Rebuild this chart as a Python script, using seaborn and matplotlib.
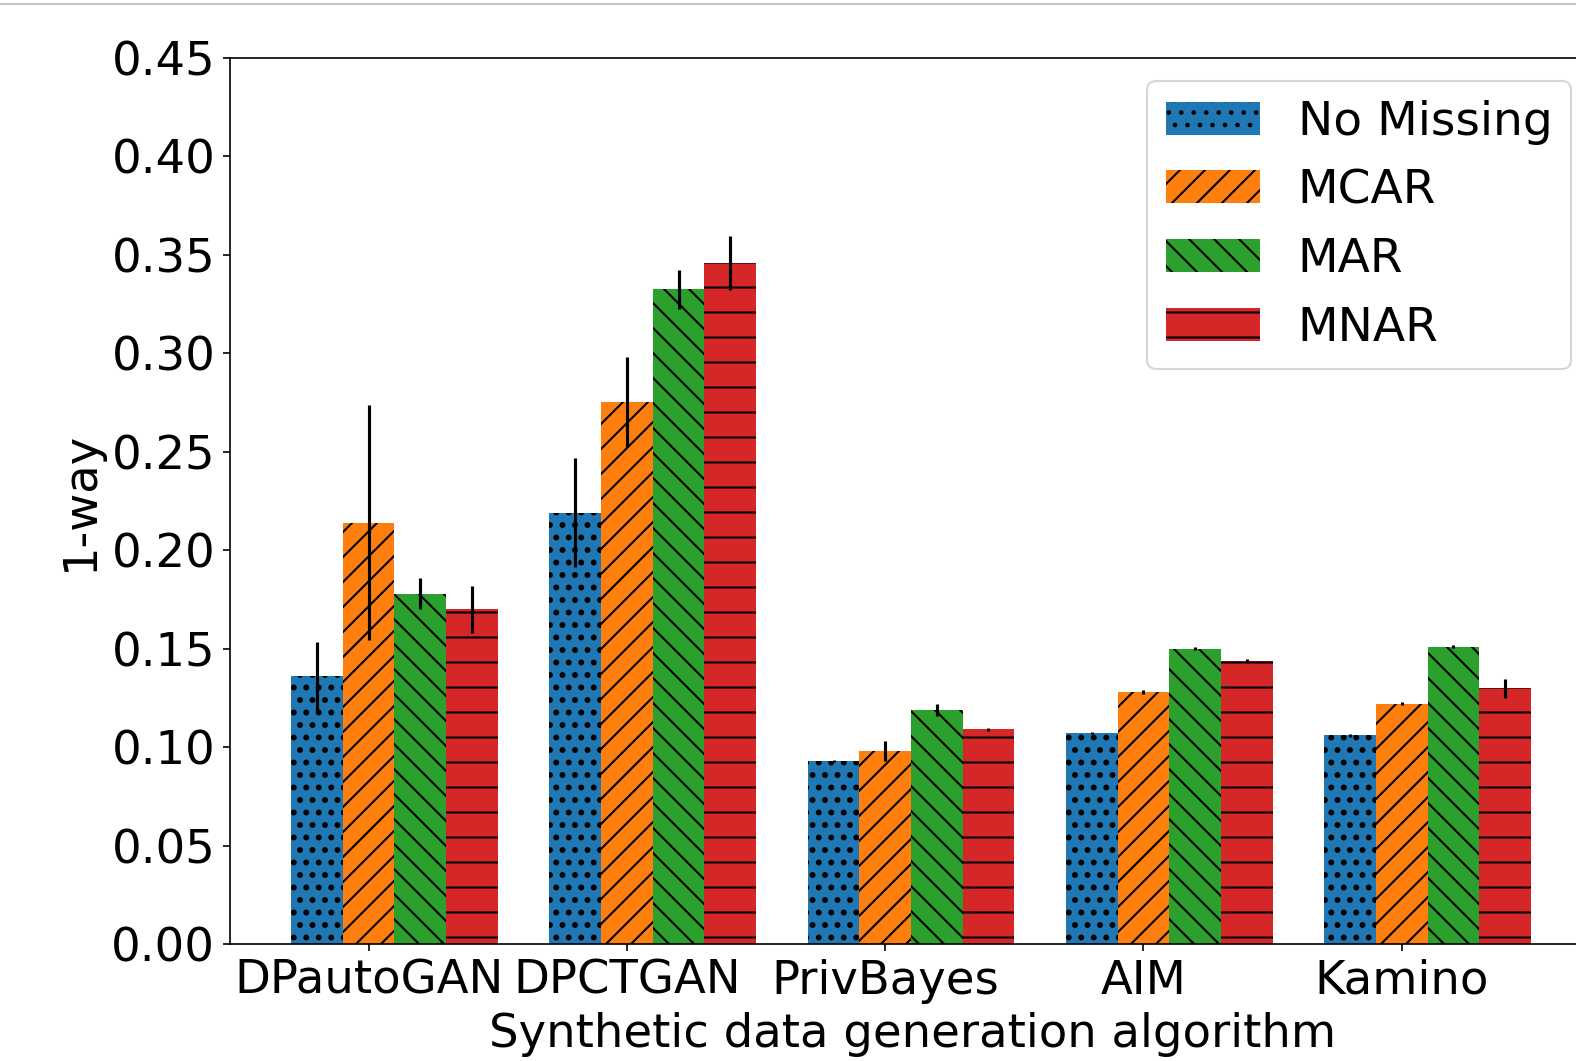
import numpy as np
import pandas as pd
import seaborn as sns
import matplotlib
matplotlib.use('Agg')
import matplotlib.pyplot as plt
from matplotlib.patches import Patch
from matplotlib.lines import Line2D

# values
algorithms = ["DPautoGAN", "DPCTGAN", "PrivBayes", "AIM", "Kamino"]
mechanisms = ["No Missing", "MCAR", "MAR", "MNAR"]

no_missing = [0.136, 0.219, 0.093, 0.107, 0.106]
no_missing_err = [0.0176, 0.0277, 0.0005, 0.0005, 0.0007]
mcar = [0.214, 0.275, 0.098, 0.128, 0.122]
mcar_err = [0.0596, 0.0228, 0.005, 0.001, 0.0008]
mar = [0.178, 0.3325, 0.119, 0.150, 0.151]
mar_err = [0.008, 0.0099, 0.003, 0.0008, 0.0008]
mnar = [0.170, 0.3455, 0.109, 0.144, 0.130]
mnar_err = [0.0118, 0.0137, 0.001, 0.0008, 0.0048]

colors = ["#1f77b4", "#ff7f0e", "#2ca02c", "#d62728"]
hatches = ["..", "//", "\\\\", "-"]
hatch_lw = [1.6, 1.0, 1.0, 1.0]

values = [no_missing, mcar, mar, mnar]
errors = [no_missing_err, mcar_err, mar_err, mnar_err]

rows = []
for mech, vals in zip(mechanisms, values):
    for alg, v in zip(algorithms, vals):
        rows.append({"algorithm": alg, "missing": mech, "value": v})
df = pd.DataFrame(rows)

plt.rcParams['font.size'] = 22.3
plt.rcParams['font.family'] = ['DejaVu Sans']

fig = plt.figure(figsize=(1576 / 150, 1061 / 150), dpi=150)
ax = fig.add_axes([0.1459, 0.110, 1.012 - 0.1459, 0.9458 - 0.110])

sns.barplot(data=df, x="algorithm", y="value", hue="missing",
            hue_order=mechanisms, order=algorithms, palette=colors,
            saturation=1, errorbar=None, legend=False, ax=ax)

# the original groups put the tick under the 2nd bar, so shift by half a bar
for container, h, hl, err in zip(ax.containers, hatches, hatch_lw, errors):
    xs = []
    ys = []
    for bar in container:
        bar.set_x(bar.get_x() + bar.get_width() / 2)
        bar.set_hatch(h)
        if hasattr(bar, "set_hatch_linewidth"):
            bar.set_hatch_linewidth(hl)
        bar.set_edgecolor("black")
        bar.set_linewidth(0)
        xs.append(bar.get_x() + bar.get_width() / 2)
        ys.append(bar.get_height())
    ax.errorbar(xs, ys, yerr=err, fmt='none', ecolor='black', elinewidth=1.5)

ax.set_xlim(-0.537, 4.748)
ax.set_ylim(0, 0.45)
ax.set_yticks(np.arange(0, 0.451, 0.05))
ax.set_yticklabels([f"{t:.2f}" for t in np.arange(0, 0.451, 0.05)])
ax.set_xlabel("Synthetic data generation algorithm")
ax.set_ylabel("1-way")

handles = []
for c, h, hl, m in zip(colors, hatches, hatch_lw, mechanisms):
    p = Patch(facecolor=c, edgecolor="black", linewidth=0, hatch=h, label=m)
    if hasattr(p, "set_hatch_linewidth"):
        p.set_hatch_linewidth(hl)
    handles.append(p)
ax.legend(handles=handles, loc="upper right", fontsize=22.6)

# thin grey border line along the top of the screenshot
fig.add_artist(Line2D([0, 1], [1 - 3.5 / 1061, 1 - 3.5 / 1061],
                      transform=fig.transFigure, color="#c8c8c8", lw=1))

fig.savefig("out.png", dpi=150)
plt.close(fig)
